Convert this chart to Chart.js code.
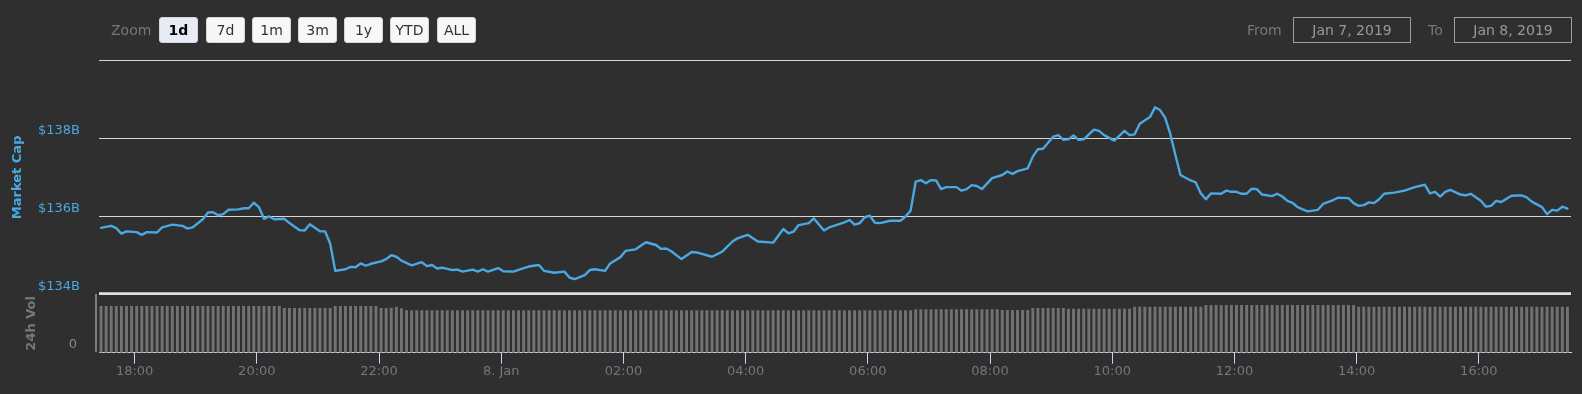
<!DOCTYPE html>
<html><head><meta charset="utf-8">
<script src="https://cdn.jsdelivr.net/npm/chart.js@4"></script>
<style>
html,body{margin:0;padding:0;background:#2f2f2f;width:1582px;height:394px;overflow:hidden;font-family:"DejaVu Sans",sans-serif;}
#wrap{position:relative;width:1582px;height:394px;}
#c{position:absolute;left:0;top:0;}
.lbl{position:absolute;top:17px;height:26px;line-height:26px;color:#777;font-size:13px;}
.btn{position:absolute;top:17px;width:39px;height:26px;box-sizing:border-box;background:#f7f7f7;border:1px solid #d6d6d6;border-radius:3px;color:#333;font-size:14px;line-height:24px;text-align:center;}
.btn.sel{background:#e6ebf5;font-weight:bold;color:#000;}
.date{position:absolute;top:17px;width:118px;height:26px;box-sizing:border-box;border:1px solid #a0a0a0;color:#999;font-size:14px;line-height:24px;text-align:center;}
</style></head>
<body>
<div id="wrap">
<canvas id="c" width="1582" height="394"></canvas>
<div class="lbl" style="left:111px;font-size:14px">Zoom</div>
<div class="btn sel" style="left:159px">1d</div>
<div class="btn" style="left:206px">7d</div>
<div class="btn" style="left:252px">1m</div>
<div class="btn" style="left:298px">3m</div>
<div class="btn" style="left:344px">1y</div>
<div class="btn" style="left:390px">YTD</div>
<div class="btn" style="left:437px">ALL</div>
<div class="lbl" style="left:1247px;font-size:14px">From</div>
<div class="date" style="left:1293px">Jan 7, 2019</div>
<div class="lbl" style="left:1428px;font-size:14px">To</div>
<div class="date" style="left:1454px">Jan 8, 2019</div>
</div>
<script>
// time slots: 5-minute steps starting Jan 7 17:27 (minutes of day)
const firstSlotMinute = 17 * 60 + 27;
const slotMinutes = 5;
const axisStartMinute = 17 * 60 + 25;
const axisEndMinute = 41 * 60 + 30.5;

// 24h volume ($B) per 5-minute slot
const volumes = [
23.9,23.9,23.9,23.9,23.9,23.9,23.9,23.9,23.9,23.9,
23.9,23.9,23.9,23.9,23.9,23.9,23.9,23.9,23.9,23.9,
23.9,23.9,23.9,23.9,23.9,23.9,23.9,23.9,23.9,23.9,
23.9,23.9,23.9,23.9,23.9,23.9,22.8,22.8,22.8,22.8,
22.8,22.8,22.8,22.8,22.8,22.8,23.9,23.9,23.9,23.9,
23.9,23.9,23.9,23.9,23.9,22.8,22.8,23.0,23.5,22.7,
21.7,21.7,21.7,21.7,21.7,21.7,21.7,21.7,21.7,21.7,
21.7,21.7,21.7,21.7,21.7,21.7,21.7,21.7,21.7,21.7,
21.7,21.7,21.7,21.7,21.7,21.7,21.7,21.7,21.7,21.7,
21.7,21.7,21.7,21.7,21.7,21.7,21.7,21.7,21.7,21.7,
21.7,21.7,21.7,21.7,21.7,21.7,21.7,21.7,21.7,21.7,
21.7,21.7,21.7,21.7,21.7,21.7,21.7,21.7,21.7,21.7,
21.7,21.7,21.7,21.7,21.7,21.7,21.7,21.7,21.7,21.7,
21.7,21.7,21.7,21.7,21.7,21.7,21.7,21.7,21.7,21.7,
21.7,21.7,21.7,21.7,21.7,21.7,21.7,21.7,21.7,21.7,
21.7,21.7,21.7,21.7,21.7,21.7,21.7,21.7,21.7,21.7,
22.2,22.2,22.2,22.2,22.2,22.2,22.2,22.2,22.2,22.2,
22.2,22.2,22.2,22.2,22.2,22.2,22.2,21.8,21.8,21.8,
21.8,21.8,21.8,22.8,22.8,22.8,22.8,22.8,22.8,22.8,
22.5,22.5,22.5,22.5,22.5,22.5,22.5,22.5,22.5,22.5,
22.5,22.5,22.5,23.5,23.5,23.5,23.5,23.5,23.5,23.5,
23.5,23.5,23.5,23.5,23.5,23.5,23.5,24.4,24.4,24.4,
24.4,24.4,24.4,24.4,24.4,24.4,24.4,24.4,24.4,24.4,
24.4,24.4,24.4,24.4,24.4,24.4,24.4,24.4,24.4,24.4,
24.4,24.4,24.4,24.4,24.4,24.4,24.4,23.5,23.5,23.5,
23.5,23.5,23.5,23.5,23.5,23.5,23.5,23.5,23.5,23.5,
23.5,23.5,23.5,23.5,23.5,23.5,23.5,23.5,23.5,23.5,
23.5,23.5,23.5,23.5,23.5,23.5,23.5,23.5,23.5,23.5,
23.5,23.5,23.5,23.5,23.5,23.5,23.5,23.5,23.5
];

// market cap ($B): slot index and value
const capSlots = [
0,2,3,4,5,7,8,9,11,12,
14,16,17,18,20,21,22,23,24,25,
27,28,29,30,31,32,33,34,36,37,
39,40,41,43,44,45,46,48,49,50,
51,52,53,55,56,57,58,59,61,63,
64,65,66,67,69,70,71,73,74,75,
76,78,79,81,83,84,86,87,89,91,
92,93,95,96,97,99,100,102,103,105,
107,109,110,111,112,114,116,117,120,122,
124,125,127,129,132,134,135,136,137,139,
140,142,143,146,147,148,149,150,151,152,
153,155,157,158,159,160,161,162,163,164,
165,166,168,169,170,171,172,173,175,177,
178,179,180,182,183,184,185,187,188,189,
190,191,192,193,195,196,197,199,201,202,
203,204,206,207,208,209,210,211,212,214,
215,216,217,218,220,221,222,223,224,225,
226,227,228,230,231,232,233,234,235,236,
237,239,240,242,243,245,246,247,248,249,
250,251,252,254,256,258,260,261,262,263,
264,265,267,268,269,271,272,273,274,275,
277,279,280,281,283,284,285,286,287,288
];
const capValues = [
135.71,135.76,135.70,135.56,135.62,135.60,135.53,135.60,135.59,135.72,
135.79,135.76,135.69,135.72,135.93,136.10,136.11,136.03,136.06,136.17,
136.18,136.21,136.21,136.35,136.24,135.94,136.00,135.93,135.94,135.83,
135.65,135.64,135.80,135.62,135.62,135.31,134.61,134.65,134.71,134.70,
134.80,134.74,134.79,134.85,134.91,135.01,134.97,134.87,134.75,134.83,
134.73,134.76,134.67,134.69,134.63,134.64,134.59,134.64,134.59,134.65,
134.59,134.68,134.60,134.59,134.68,134.72,134.76,134.61,134.56,134.59,
134.44,134.40,134.50,134.63,134.65,134.61,134.80,134.96,135.12,135.16,
135.34,135.27,135.17,135.18,135.11,134.91,135.09,135.08,134.97,135.10,
135.36,135.44,135.53,135.36,135.33,135.68,135.57,135.61,135.78,135.83,
135.95,135.64,135.72,135.85,135.91,135.79,135.83,135.98,136.02,135.84,
135.83,135.89,135.89,136.00,136.15,136.89,136.93,136.85,136.93,136.92,
136.70,136.75,136.75,136.66,136.70,136.80,136.78,136.70,136.98,137.06,
137.15,137.09,137.16,137.23,137.53,137.72,137.73,138.04,138.08,137.96,
137.97,138.07,137.96,137.97,138.22,138.19,138.08,137.94,138.19,138.08,
138.10,138.37,138.54,138.79,138.72,138.52,138.11,137.57,137.06,136.92,
136.87,136.59,136.44,136.59,136.58,136.66,136.63,136.63,136.58,136.58,
136.71,136.70,136.56,136.52,136.58,136.51,136.40,136.35,136.24,136.18,
136.13,136.17,136.32,136.42,136.48,136.47,136.34,136.27,136.29,136.36,
136.34,136.44,136.58,136.61,136.66,136.75,136.81,136.59,136.63,136.51,
136.63,136.68,136.56,136.54,136.58,136.40,136.25,136.27,136.40,136.37,
136.53,136.54,136.49,136.38,136.24,136.06,136.17,136.15,136.25,136.20
];

// axis ticks
const xTickHours = [18,20,22,24,26,28,30,32,34,36,38,40];
const xTickLabels = ['18:00','20:00','22:00','8. Jan','02:00','04:00','06:00','08:00','10:00','12:00','14:00','16:00'];
const capTicks = [134,136,138,140];
const capTickLabels = ['$134B','$136B','$138B',''];
const capMin = 132.517, capMax = 140;
const volMax = 149.6;
const volPaneTop = 30;

const toSlot = m => (m - firstSlotMinute) / slotMinutes;
const BLUE = '#4aa8e2';
const FONT = '"DejaVu Sans", sans-serif';

const decor = {
  id: 'decor',
  afterDraw(chart) {
    const {ctx, chartArea, scales} = chart;
    const yc = scales.yCap, yv = scales.yVol;
    const volTop = yv.getPixelForValue(volPaneTop);
    const volBot = yv.getPixelForValue(0);
    ctx.save();
    ctx.strokeStyle = '#e2e2e2';
    ctx.lineWidth = 2.5;
    ctx.beginPath();
    ctx.moveTo(chartArea.left, volTop - 0.6);
    ctx.lineTo(chartArea.right, volTop - 0.6);
    ctx.stroke();
    ctx.strokeStyle = '#9a9a9a';
    ctx.lineWidth = 1.5;
    ctx.beginPath();
    ctx.moveTo(96, volTop);
    ctx.lineTo(96, volBot - 1);
    ctx.stroke();
    ctx.fillStyle = '#888';
    ctx.font = '13px ' + FONT;
    ctx.textAlign = 'right';
    ctx.textBaseline = 'middle';
    ctx.fillText('0', 77, volBot - 7.7);
    ctx.font = 'bold 13px ' + FONT;
    ctx.textAlign = 'center';
    const capMid = (yc.getPixelForValue(140) + yc.getPixelForValue(134)) / 2;
    ctx.translate(17.5, capMid);
    ctx.rotate(-Math.PI / 2);
    ctx.fillStyle = BLUE;
    ctx.fillText('Market Cap', 0, 0);
    ctx.restore();
    ctx.save();
    ctx.font = 'bold 13px ' + FONT;
    ctx.textAlign = 'center';
    ctx.textBaseline = 'middle';
    ctx.translate(32, (volTop + volBot) / 2);
    ctx.rotate(-Math.PI / 2);
    ctx.fillStyle = '#777';
    ctx.fillText('24h Vol', 0, 0);
    ctx.restore();
  }
};

new Chart(document.getElementById('c'), {
  type: 'line',
  data: {
    datasets: [
      {
        type: 'line',
        label: 'Market Cap',
        data: capSlots.map((s, i) => ({x: s, y: capValues[i]})),
        xAxisID: 'x', yAxisID: 'yCap',
        borderColor: BLUE, borderWidth: 2.4, pointRadius: 0, tension: 0, fill: false,
        borderJoinStyle: 'round', borderCapStyle: 'round',
        order: 0
      },
      {
        type: 'bar',
        label: '24h Vol',
        data: volumes.map((v, i) => ({x: i, y: v})),
        xAxisID: 'x', yAxisID: 'yVol',
        backgroundColor: '#727272', borderWidth: 0,
        barPercentage: 0.58, categoryPercentage: 1.0,
        order: 1
      }
    ]
  },
  options: {
    responsive: false,
    animation: false,
    events: [],
    layout: {padding: {top: 60, right: 11, bottom: 0, left: 0}},
    plugins: {legend: {display: false}, tooltip: {enabled: false}},
    scales: {
      x: {
        type: 'linear',
        position: 'bottom',
        offset: false,
        min: toSlot(axisStartMinute),
        max: toSlot(axisEndMinute),
        afterBuildTicks: s => { s.ticks = xTickHours.map(h => ({value: toSlot(h * 60)})); },
        afterFit: s => { s.height = 41.3; },
        ticks: {
          autoSkip: false, maxRotation: 0, padding: 0,
          color: '#777', font: {family: FONT, size: 13},
          callback: (v, i) => xTickLabels[i]
        },
        grid: {drawOnChartArea: false, drawTicks: true, tickLength: 11, tickColor: '#ccd6eb', tickWidth: 1, offset: false},
        border: {display: true, color: '#ccd6eb', width: 1}
      },
      yCap: {
        type: 'linear',
        position: 'left',
        min: capMin, max: capMax,
        afterBuildTicks: s => { s.ticks = capTicks.map(v => ({value: v})); },
        afterFit: s => { s.width = 99; },
        ticks: {
          autoSkip: false, padding: 19, labelOffset: -7.6,
          color: BLUE, font: {family: FONT, size: 13},
          callback: (v, i) => capTickLabels[i]
        },
        grid: {color: '#d6d6d6', lineWidth: 1, drawTicks: false},
        border: {display: false}
      },
      yVol: {
        type: 'linear',
        position: 'left',
        display: false,
        min: 0, max: volMax
      }
    }
  },
  plugins: [decor]
});
</script>
</body></html>
